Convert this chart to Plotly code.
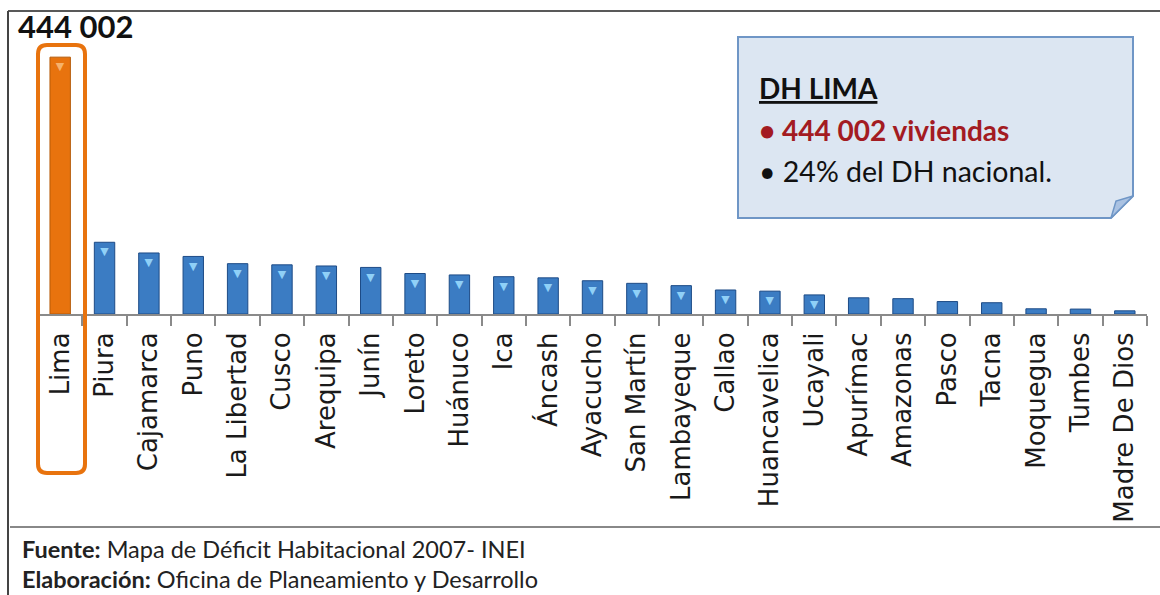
import plotly.graph_objects as go

departamentos = ["Lima", "Piura", "Cajamarca", "Puno", "La Libertad", "Cusco", "Arequipa",
                 "Junín", "Loreto", "Huánuco", "Ica", "Áncash", "Ayacucho", "San Martín",
                 "Lambayeque", "Callao", "Huancavelica", "Ucayali", "Apurímac", "Amazonas",
                 "Pasco", "Tacna", "Moquegua", "Tumbes", "Madre De Dios"]
deficit = [444002, 124000, 105500, 99500, 87000, 85000, 83000, 80500, 70000, 67500, 64500,
           62500, 57500, 53000, 49000, 41500, 39500, 33000, 28000, 26500, 21500, 19500,
           9000, 8500, 5500]
highlight = "Lima"
lima_value_label = "444 002"

W, H = 1160, 595
L, R, T, B = 38, 13, 45, 281
PW = W - L - R
PH = H - T - B


def px(x):
    return (x - L) / PW


def py(y):
    return (H - B - y) / PH


colors = ["#e8730e" if d == highlight else "#3b7cc3" for d in departamentos]
lines = ["#b55a08" if d == highlight else "#1d4b86" for d in departamentos]

fig = go.Figure()
fig.add_trace(go.Bar(
    x=departamentos, y=deficit,
    marker=dict(color=colors, line=dict(color=lines, width=1)),
    text=["▼"] * len(departamentos),
    textposition="inside", insidetextanchor="end", textangle=0,
    textfont=dict(family="DejaVu Sans", color=["#f6b26b" if d == highlight else "#8fd0f7" for d in departamentos], size=15),
    cliponaxis=False, hoverinfo="x+y",
))

shapes = []
# frame lines
shapes.append(dict(type="line", xref="paper", yref="paper", x0=px(8), x1=px(W), y0=py(11), y1=py(11),
                   line=dict(color="#222", width=1.5)))
shapes.append(dict(type="line", xref="paper", yref="paper", x0=px(8), x1=px(8), y0=py(11), y1=py(H),
                   line=dict(color="#444", width=2)))
shapes.append(dict(type="line", xref="paper", yref="paper", x0=px(10), x1=px(W), y0=py(527), y1=py(527),
                   line=dict(color="#888", width=2)))

# orange rounded highlight frame around Lima
x0, x1, y0, y1, r = 38, 85, 45, 473, 9
path = (f"M {px(x0 + r)},{py(y0)} L {px(x1 - r)},{py(y0)} Q {px(x1)},{py(y0)} {px(x1)},{py(y0 + r)} "
        f"L {px(x1)},{py(y1 - r)} Q {px(x1)},{py(y1)} {px(x1 - r)},{py(y1)} "
        f"L {px(x0 + r)},{py(y1)} Q {px(x0)},{py(y1)} {px(x0)},{py(y1 - r)} "
        f"L {px(x0)},{py(y0 + r)} Q {px(x0)},{py(y0)} {px(x0 + r)},{py(y0)} Z")
shapes.append(dict(type="path", xref="paper", yref="paper", path=path,
                   line=dict(color="#e8730e", width=4), fillcolor="rgba(0,0,0,0)"))

# note box with folded corner
bx0, bx1, by0, by1, f = 738, 1133, 37, 218, 22
box = (f"M {px(bx0)},{py(by0)} L {px(bx1)},{py(by0)} L {px(bx1)},{py(by1 - f)} "
       f"L {px(bx1 - f)},{py(by1)} L {px(bx0)},{py(by1)} Z")
shapes.append(dict(type="path", xref="paper", yref="paper", path=box,
                   line=dict(color="#6f96c6", width=2), fillcolor="#dce6f2"))
fold = (f"M {px(bx1 - f)},{py(by1)} L {px(bx1)},{py(by1 - f)} L {px(bx1 - f + 5)},{py(by1 - f + 5)} Z")
shapes.append(dict(type="path", xref="paper", yref="paper", path=fold,
                   line=dict(color="#6f96c6", width=1.5), fillcolor="#aac2e2"))

fnt = "Lato, Open Sans, sans-serif"
annotations = [
    dict(text=f"<b>{lima_value_label}</b>", xref="paper", yref="paper", x=px(16), y=py(26),
         xanchor="left", yanchor="middle", showarrow=False, font=dict(family=fnt, size=31, color="#111")),
    dict(text="<b><u>DH LIMA</u></b>", xref="paper", yref="paper", x=px(757), y=py(88),
         xanchor="left", yanchor="middle", showarrow=False, font=dict(family=fnt, size=28, color="#111")),
    dict(text="<b>• 444 002 viviendas</b>", xref="paper", yref="paper", x=px(757), y=py(130),
         xanchor="left", yanchor="middle", showarrow=False, font=dict(family=fnt, size=28, color="#a31b22")),
    dict(text="• 24% del DH nacional.", xref="paper", yref="paper", x=px(757), y=py(171),
         xanchor="left", yanchor="middle", showarrow=False, font=dict(family=fnt, size=28.5, color="#111")),
    dict(text="<b>Fuente:</b> Mapa de Déficit Habitacional 2007- INEI", xref="paper", yref="paper",
         x=px(20), y=py(549), xanchor="left", yanchor="middle", showarrow=False,
         font=dict(family=fnt, size=23.5, color="#222")),
    dict(text="<b>Elaboración:</b> Oficina de Planeamiento y Desarrollo", xref="paper", yref="paper",
         x=px(20), y=py(579), xanchor="left", yanchor="middle", showarrow=False,
         font=dict(family=fnt, size=23.5, color="#222")),
]

fig.update_layout(
    width=W, height=H, margin=dict(l=L, r=R, t=T, b=B, autoexpand=False),
    paper_bgcolor="white", plot_bgcolor="white",
    showlegend=False, bargap=0.54,
    shapes=shapes, annotations=annotations,
    uniformtext=dict(mode="hide", minsize=10),
    xaxis=dict(tickangle=-90, tickfont=dict(family="DejaVu Sans, Verdana, sans-serif", size=26, color="#1a1a1a"),
               showline=True, linecolor="#8a8a8a", linewidth=2, ticks="outside", tickson="boundaries",
               ticklen=10, tickcolor="#8a8a8a", tickwidth=1.5, showgrid=False, fixedrange=True,
               ticklabelstandoff=6, automargin=False),
    yaxis=dict(range=[0, 465000], visible=False, showgrid=False, fixedrange=True),
)

fig.write_html("out.html", config={"displayModeBar": False},
               post_script="document.body.style.margin='0';document.body.style.overflow='hidden';")
